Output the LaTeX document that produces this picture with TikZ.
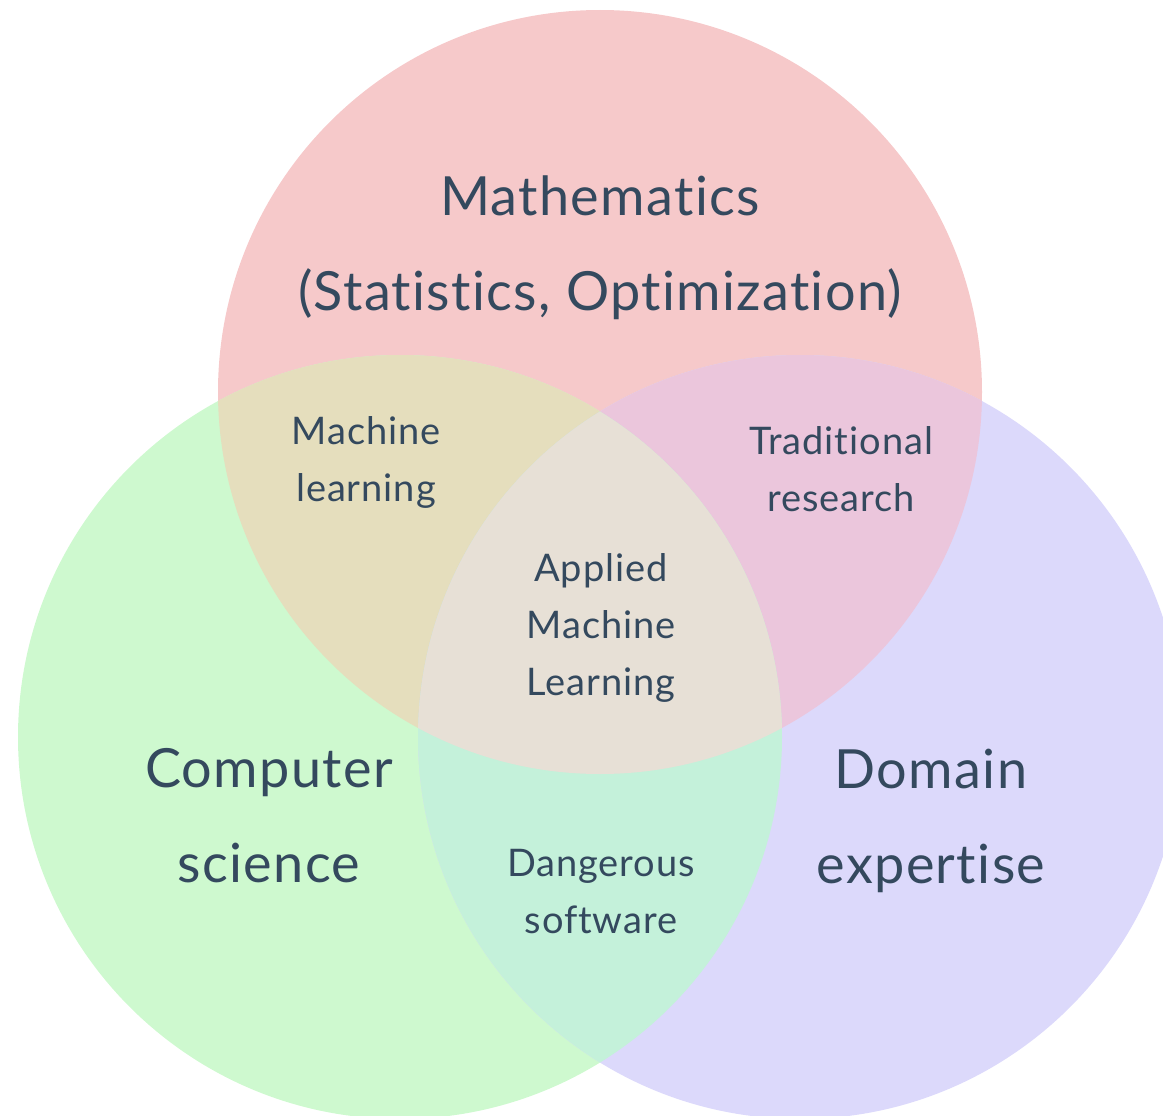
\documentclass[tikz,border=0pt]{standalone}
\usepackage{fontspec}
\setmainfont{Lato}[Ligatures=NoCommon,LetterSpace=2.5]
\definecolor{ink}{RGB}{52,73,94}
\definecolor{mathc}{RGB}{246,201,202}
\definecolor{compc}{RGB}{206,249,207}
\definecolor{domc}{RGB}{220,217,251}
\definecolor{mlc}{RGB}{229,222,189}
\definecolor{trc}{RGB}{235,198,220}
\definecolor{dgc}{RGB}{196,241,218}
\definecolor{amlc}{RGB}{231,224,214}

\begin{document}
\begin{tikzpicture}[x=1pt,y=-1pt,
  big/.style={text=ink,align=center,font=\fontsize{54}{95}\selectfont},
  small/.style={text=ink,align=center,font=\fontsize{38}{57}\selectfont}]

	\useasboundingbox (0,0) rectangle (1163,1116);
	\clip (0,0) rectangle (1163,1116);

	\coordinate (m) at (600,392); \coordinate (c) at (400,737);
	\coordinate (d) at (800,737);

	\fill[mathc] (m) circle(382); \fill[compc] (c) circle(382);
	\fill[domc] (d) circle(382);

	\begin{scope} \clip (m) circle(382); \fill[mlc] (c) circle(382);
	\end{scope}
	\begin{scope} \clip (m) circle(382); \fill[trc] (d) circle(382);
	\end{scope}
	\begin{scope} \clip (c) circle(382); \fill[dgc] (d) circle(382);
	\end{scope}
	\begin{scope} \clip (m) circle(382); \clip (c) circle(382);
	\fill[amlc] (d) circle(382); \end{scope}

	\node[big] (math) at (600,248) {Mathematics\\(Statistics, Optimization)};
	\node[big] (comp) at (269,816) {Computer\\science};
	\node[big] (dom) at (931,821) {Domain\\expertise};

	\node[small] (ml) at (366,462) {Machine\\learning};
	\node[small] (trad) at (841,469) {Traditional\\research};
	\node[small] (aml) at (601,628) {Applied\\Machine\\Learning};
	\node[small] (dang) at (601,892) {Dangerous\\software};
\end{tikzpicture}
\end{document}
